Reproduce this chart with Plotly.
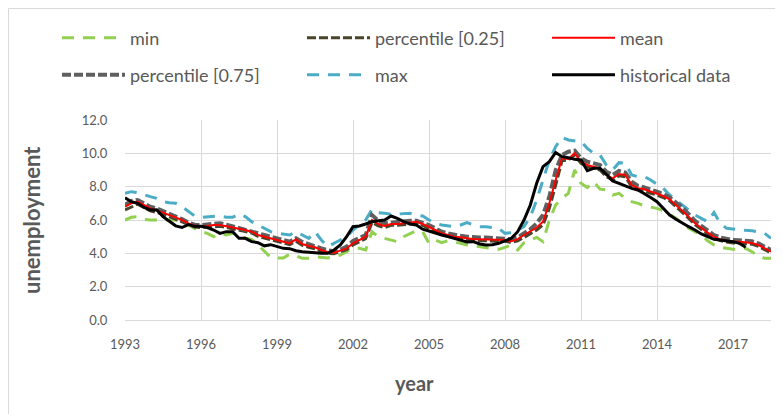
import plotly.graph_objects as go

# ---------------- data (quarterly, first quarter = 1993.0) ----------------
start_year = 1993
tick_years = [1993, 1996, 1999, 2002, 2005, 2008, 2011, 2014, 2017]
tick_labels = [str(y) for y in tick_years]
y_ticks = [0, 2, 4, 6, 8, 10, 12]

historical = [
    7.34, 7.1, 7.0, 6.75, 6.6, 6.62, 6.2, 5.95, 5.65, 5.55, 5.72, 5.62,
    5.62, 5.55, 5.4, 5.2, 5.3, 5.3, 4.9, 4.9, 4.7, 4.64, 4.45, 4.52,
    4.4, 4.3, 4.28, 4.16, 4.1, 4.06, 4.04, 4.0, 4.0, 4.2, 4.5, 5.0,
    5.6, 5.64, 5.76, 5.9, 5.95, 6.0, 6.24, 6.1, 5.9, 5.76, 5.7, 5.45,
    5.34, 5.2, 5.1, 5.0, 4.88, 4.76, 4.68, 4.7, 4.56, 4.5, 4.52, 4.6,
    4.75, 4.9, 5.3, 6.0, 6.9, 8.2, 9.2, 9.5, 10.05, 9.8, 9.74, 9.64,
    9.6, 8.96, 9.1, 9.1, 8.74, 8.34, 8.2, 8.04, 7.9, 7.8, 7.6, 7.35,
    7.1, 6.7, 6.3, 6.05, 5.8, 5.6, 5.4, 5.16, 5.0, 4.84, 4.8, 4.76,
    4.7, 4.6, 4.36,
]

mean_vals = [
    6.8, 7.0, 7.1, 6.9, 6.7, 6.58, 6.45, 6.32, 6.16, 6.0, 5.8, 5.66,
    5.62, 5.64, 5.7, 5.7, 5.64, 5.56, 5.48, 5.4, 5.3, 5.1, 5.0, 4.88,
    4.76, 4.68, 4.6, 4.84, 4.56, 4.44, 4.36, 4.2, 4.08, 4.04, 4.16, 4.3,
    4.6, 4.8, 5.0, 6.0, 5.76, 5.64, 5.76, 5.76, 5.8, 5.84, 5.9, 5.76,
    5.6, 5.4, 5.2, 5.1, 5.0, 4.96, 4.9, 4.84, 4.84, 4.84, 4.84, 4.8,
    4.8, 4.72, 4.85, 5.1, 5.3, 5.55, 5.9, 7.0, 8.4, 9.7, 9.66, 10.0,
    9.5, 9.3, 9.2, 9.1, 8.7, 8.5, 8.76, 8.7, 8.1, 7.9, 7.84, 7.7,
    7.6, 7.44, 7.24, 6.9, 6.6, 6.2, 5.8, 5.5, 5.24, 5.0, 4.84, 4.76,
    4.7, 4.7, 4.68, 4.62, 4.5, 4.3, 4.1,
]

max_vals = [
    7.6, 7.7, 7.64, 7.5, 7.4, 7.3, 7.1, 7.04, 7.0, 6.8, 6.5, 6.24,
    6.16, 6.2, 6.24, 6.24, 6.16, 6.16, 6.36, 6.2, 5.9, 5.7, 5.45, 5.3,
    5.2, 5.15, 5.1, 5.3, 5.1, 4.9, 5.3, 4.8, 4.4, 4.6, 4.75, 5.0,
    5.4, 5.7, 6.0, 6.64, 6.44, 6.4, 6.35, 6.36, 6.4, 6.4, 6.3, 6.24,
    6.0, 5.8, 5.7, 5.64, 5.6, 5.7, 5.84, 5.7, 5.6, 5.6, 5.55, 5.5,
    5.2, 5.24, 5.4, 5.6, 6.2, 7.2, 8.4, 9.6, 10.4, 10.96, 10.8, 10.76,
    10.7, 10.3, 10.0, 9.9, 9.3, 9.0, 9.44, 9.4, 8.7, 8.6, 8.6, 8.4,
    8.15, 7.9, 7.5, 7.2, 6.9, 6.6, 6.3, 6.1, 5.9, 6.45, 5.8, 5.5,
    5.45, 5.4, 5.38, 5.36, 5.3, 5.2, 4.9,
]

min_vals = [
    6.0, 6.16, 6.2, 6.04, 6.0, 6.0, 6.04, 6.0, 6.04, 6.0, 5.7, 5.5,
    5.3, 5.2, 5.0, 5.2, 5.1, 5.2, 5.1, 4.9, 4.84, 4.5, 4.1, 3.76,
    3.72, 3.72, 3.95, 3.85, 3.7, 3.7, 3.8, 3.75, 3.72, 3.8, 3.9, 4.1,
    4.3, 4.3, 4.2, 5.3, 5.0, 4.9, 4.8, 4.7, 5.0, 5.2, 5.36, 5.3,
    4.6, 4.8, 4.64, 4.76, 4.7, 4.6, 4.5, 4.45, 4.4, 4.36, 4.3, 4.24,
    4.36, 4.5, 4.2, 4.64, 4.8, 4.96, 4.7, 6.0, 6.9, 7.3, 7.6, 9.0,
    8.2, 7.95, 8.3, 7.85, 7.8, 7.5, 7.6, 7.3, 7.1, 7.0, 6.85, 6.76,
    6.7, 6.55, 6.35, 6.1, 5.8, 5.5, 5.3, 5.1, 4.75, 4.5, 4.36, 4.3,
    4.24, 4.24, 4.3, 4.1, 3.85, 3.7, 3.7,
]

p25_vals = [
    6.6, 6.8, 6.95, 6.75, 6.55, 6.45, 6.35, 6.2, 6.05, 5.9, 5.72, 5.58,
    5.55, 5.58, 5.62, 5.62, 5.56, 5.48, 5.4, 5.32, 5.22, 5.02, 4.92, 4.8,
    4.68, 4.6, 4.52, 4.72, 4.48, 4.36, 4.28, 4.12, 4.0, 3.98, 4.08, 4.22,
    4.5, 4.7, 4.88, 5.85, 5.65, 5.55, 5.68, 5.68, 5.72, 5.76, 5.8, 5.68,
    5.5, 5.3, 5.12, 5.02, 4.92, 4.88, 4.82, 4.76, 4.76, 4.76, 4.76, 4.72,
    4.72, 4.65, 4.75, 4.95, 5.15, 5.4, 5.7, 6.7, 8.1, 9.55, 9.6, 9.9,
    9.4, 9.2, 9.1, 9.0, 8.6, 8.4, 8.65, 8.6, 8.0, 7.8, 7.75, 7.6,
    7.5, 7.35, 7.15, 6.8, 6.5, 6.1, 5.72, 5.42, 5.16, 4.92, 4.76, 4.68,
    4.62, 4.62, 4.6, 4.55, 4.42, 4.22, 4.02,
]

p75_vals = [
    6.9, 7.15, 7.2, 7.0, 6.8, 6.7, 6.55, 6.4, 6.25, 6.05, 5.85, 5.72,
    5.7, 5.75, 5.8, 5.8, 5.72, 5.62, 5.55, 5.46, 5.35, 5.2, 5.1, 5.0,
    4.88, 4.78, 4.7, 4.9, 4.68, 4.55, 4.45, 4.3, 4.18, 4.12, 4.22, 4.4,
    4.75, 4.95, 5.1, 6.3, 5.95, 5.8, 5.85, 5.85, 5.9, 5.95, 5.95, 5.85,
    5.7, 5.5, 5.3, 5.2, 5.1, 5.05, 5.0, 4.95, 4.95, 4.95, 4.92, 4.9,
    4.9, 4.85, 4.95, 5.2, 5.45, 5.8, 6.3, 7.4, 9.0, 9.9, 10.1, 10.16,
    9.7, 9.5, 9.4, 9.3, 8.9, 8.7, 8.95, 8.85, 8.3, 8.05, 7.95, 7.85,
    7.7, 7.55, 7.35, 7.05, 6.75, 6.35, 5.95, 5.65, 5.35, 5.1, 4.95, 4.85,
    4.8, 4.78, 4.75, 4.72, 4.6, 4.4, 4.2,
]

for s in (mean_vals, max_vals, min_vals, p25_vals, p75_vals):
    assert len(s) == 103, len(s)
assert len(historical) == 99

def quarters(n):
    return [start_year + i / 4 for i in range(n)]

x_fc = quarters(len(mean_vals))
x_hist = quarters(len(historical))

FONT = "Lato, 'Open Sans', sans-serif"
GREY_TXT = "#595959"
GRID = "#d9d9d9"

fig = go.Figure()

def add(x, y, name, color, width, dash, legend, rank):
    fig.add_trace(go.Scatter(
        x=x, y=y, name=name, mode="lines",
        line=dict(color=color, width=width, dash=dash),
        legend=legend, legendrank=rank, hoverinfo="x+y+name",
    ))

# drawing order (bottom -> top)
add(x_fc, min_vals, "min", "#92D050", 3, "12px,9px", "legend", 1)
add(x_fc, max_vals, "max", "#4BACC6", 3, "12px,9px", "legend2", 2)
add(x_fc, p25_vals, "percentile [0.25]", "#4A452A", 3, "9px,3px", "legend", 2)
add(x_fc, p75_vals, "percentile [0.75]", "#5F5F5F", 4, "9px,3px", "legend2", 1)
add(x_fc, mean_vals, "mean", "#FF0000", 2, "solid", "legend", 3)
add(x_hist, historical, "historical data", "#000000", 3, "solid", "legend2", 3)

# page has an 8px body margin; work in page pixel coordinates
OFF = 8
W, H = 783 - OFF, 414 - OFF
PL, PR, PT, PB = 125, 771, 120, 320          # plot area in page pixels
L, T = PL - OFF, PT - OFF
R, B = W - (PR - OFF), H - (PB - OFF)
pw, ph = PR - PL, PB - PT

def px_x(p):
    return (p - PL) / pw

def px_y(p):
    return (PB - p) / ph

ITEM_W = 63
legend_common = dict(
    orientation="h", xref="paper", yref="paper",
    x=px_x(130 - ITEM_W - 10), xanchor="left", yanchor="middle",
    itemwidth=ITEM_W,
    entrywidth=245 - ITEM_W - 10 - 5, entrywidthmode="pixels",
    font=dict(family=FONT, size=18, color=GREY_TXT),
    bgcolor="rgba(0,0,0,0)", borderwidth=0, traceorder="normal",
)

fig.update_layout(
    width=W, height=H,
    margin=dict(l=L, r=R, t=T, b=B, autoexpand=False),
    paper_bgcolor="white", plot_bgcolor="white",
    font=dict(family=FONT, color=GREY_TXT),
    showlegend=True,
    legend=dict(legend_common, y=px_y(38)),
    legend2=dict(legend_common, y=px_y(75)),
    xaxis=dict(
        range=[start_year, start_year + (len(mean_vals) - 1) / 4],
        tickmode="array", tickvals=tick_years, ticktext=tick_labels,
        showgrid=True, gridcolor=GRID, gridwidth=1,
        zeroline=False, showline=True, linecolor=GRID, linewidth=1,
        ticks="outside", ticklen=12, tickcolor="rgba(0,0,0,0)",
        tickfont=dict(family=FONT, size=13, color=GREY_TXT),
    ),
    yaxis=dict(
        range=[0, 12], tickmode="array", tickvals=y_ticks, tickformat=".1f",
        showgrid=True, gridcolor=GRID, gridwidth=1,
        zeroline=False, showline=False,
        ticks="outside", ticklen=14, tickcolor="rgba(0,0,0,0)",
        tickfont=dict(family=FONT, size=13, color=GREY_TXT),
    ),
    annotations=[
        dict(text="<b>unemployment</b>", textangle=-90, showarrow=False,
             xref="paper", yref="paper", x=px_x(31), y=px_y(220),
             xanchor="center", yanchor="middle",
             font=dict(family=FONT, size=22, color=GREY_TXT)),
        dict(text="<b>year</b>", showarrow=False,
             xref="paper", yref="paper", x=px_x(414), y=px_y(383),
             xanchor="center", yanchor="middle",
             font=dict(family=FONT, size=20, color=GREY_TXT)),
    ],
    shapes=[dict(
        type="rect", xref="paper", yref="paper",
        x0=px_x(8.5), x1=px_x(800), y0=px_y(430), y1=px_y(8.5),
        line=dict(color=GRID, width=1), fillcolor="rgba(0,0,0,0)", layer="below",
    )],
)

fig.write_html("out.html")
